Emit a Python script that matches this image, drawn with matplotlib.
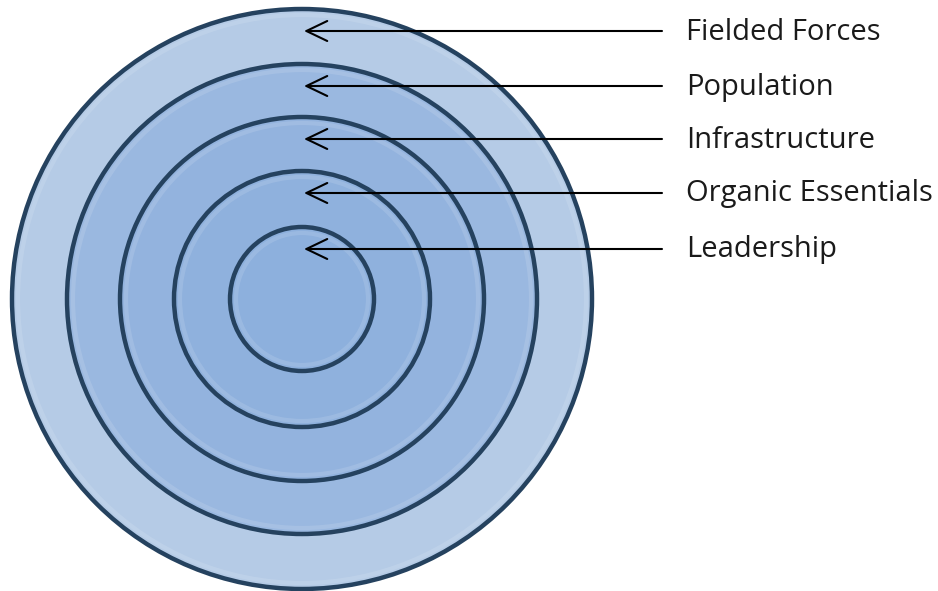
import matplotlib.pyplot as plt
from matplotlib.patches import Circle

# layers, outermost first
labels = ["Fielded Forces", "Population", "Infrastructure", "Organic Essentials", "Leadership"]
radii = [290, 235, 182, 128, 72]
fills = ["#b5cbe6", "#9ab8e0", "#93b3de", "#8fb1dd", "#8db0dd"]

cx, cy = 302, 299
edge = "#25425f"

fig = plt.figure(figsize=(9.38, 5.91), dpi=100)
ax = fig.add_axes([0, 0, 1, 1])
ax.set_xlim(0, 938)
ax.set_ylim(591, 0)
ax.set_aspect("equal")
ax.axis("off")

for r, fc in zip(radii, fills):
    ax.add_patch(Circle((cx, cy), r, facecolor=fc, edgecolor=edge, lw=3.2, zorder=1))
    # soft bevel highlight just inside each edge
    ax.add_patch(Circle((cx, cy), r - 6, facecolor="none", edgecolor="white",
                        lw=3, alpha=0.12, zorder=2))

for lab, r in zip(labels, radii):
    y = cy - r + 22
    ax.annotate("", xy=(304, y), xytext=(662, y),
                arrowprops=dict(arrowstyle="->,head_length=0.75,head_width=0.36",
                                mutation_scale=20, lw=1.5, color="black",
                                shrinkA=0, shrinkB=0), zorder=3)
    ax.text(686, y + 1, lab, fontsize=21, family="Open Sans", color="#1a1a1a",
            va="center", ha="left")

fig.savefig("out.png", dpi=100)
